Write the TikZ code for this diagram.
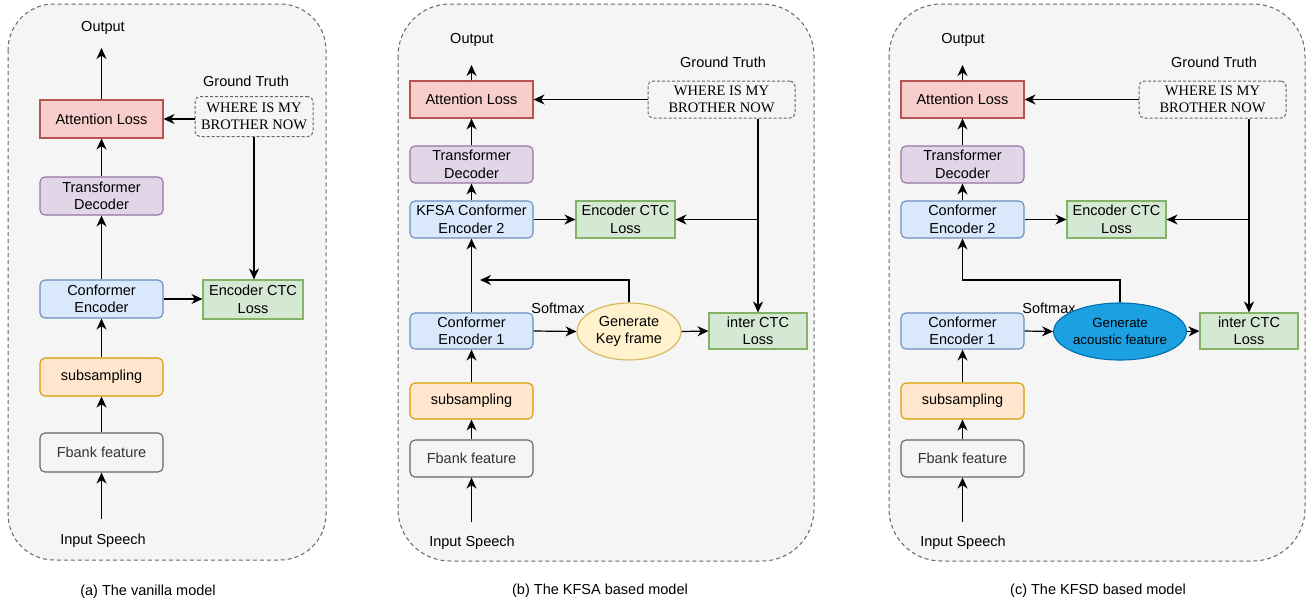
\documentclass[tikz,border=0pt]{standalone}
\usepackage{fontspec}
\setmainfont{Liberation Sans}
\newfontfamily\gtserif{Liberation Serif}
\usetikzlibrary{arrows.meta,shapes.geometric}
\definecolor{attfill}{HTML}{F8CECC}\definecolor{attdraw}{HTML}{B85450}
\definecolor{decfill}{HTML}{E1D5E7}\definecolor{decdraw}{HTML}{9673A6}
\definecolor{encfill}{HTML}{DAE8FC}\definecolor{encdraw}{HTML}{6C8EBF}
\definecolor{ctcfill}{HTML}{D5E8D4}\definecolor{ctcdraw}{HTML}{82B366}
\definecolor{subfill}{HTML}{FFE6CC}\definecolor{subdraw}{HTML}{D79B00}
\definecolor{fbfill}{HTML}{F5F5F5}\definecolor{fbdraw}{HTML}{666666}\definecolor{fbtext}{HTML}{333333}
\definecolor{kffill}{HTML}{FFF2CC}\definecolor{kfdraw}{HTML}{D6B656}
\definecolor{acfill}{HTML}{1BA1E2}\definecolor{acdraw}{HTML}{006EAF}
\definecolor{panelfill}{HTML}{F5F5F5}\definecolor{paneldraw}{HTML}{666666}
\begin{document}
\begin{tikzpicture}[x=1pt,y=-1pt,
  every node/.style={font=\fontsize{14.5}{17.4}\selectfont, inner sep=0pt, align=center},
  blk/.style={draw, line width=1.1pt, minimum width=123pt, minimum height=37pt},
  rblk/.style={blk, rounded corners=5pt},
  attbox/.style={blk, fill=attfill, draw=attdraw},
  decbox/.style={rblk, fill=decfill, draw=decdraw},
  encbox/.style={rblk, fill=encfill, draw=encdraw},
  ctcbox/.style={blk, fill=ctcfill, draw=ctcdraw, minimum width=99pt},
  subbox/.style={rblk, fill=subfill, draw=subdraw},
  fbbox/.style={rblk, fill=fbfill, draw=fbdraw, text=fbtext},
  gtbox/.style={draw=paneldraw, line width=1pt, dash pattern=on 3pt off 2pt, rounded corners=5pt,
     minimum width=147pt, minimum height=37pt, font=\gtserif\fontsize{14.5}{17.6}\selectfont},
  kfell/.style={ellipse, draw=kfdraw, fill=kffill, line width=1.1pt, minimum width=104pt, minimum height=57pt},
  acell/.style={ellipse, draw=acdraw, fill=acfill, line width=1.1pt, minimum width=104pt, minimum height=57pt,
     font=\fontsize{13.3}{16.5}\selectfont},
  arw/.style={-{Stealth[length=11pt,width=10pt,inset=3.5pt]}, line width=1.2pt},
  panelbox/.style={draw=paneldraw, fill=panelfill, dash pattern=on 4pt off 3pt, line width=1pt}
]
\useasboundingbox (0,0) rectangle (1313,603);
\fill[white] (0,0) rectangle (1313,603);

% ---------- panel (a) ----------
\draw[panelbox, rounded corners=46pt] (8,4) rectangle (326,560);
\node (aout) at (103,28) {Output};
\coordinate (aouttip) at (101.5,48);
\node[attbox, minimum height=38pt] (aatt) at (101.5,119) {Attention Loss};
\node (agtl) at (246,81) {Ground Truth};
\node[gtbox, minimum width=118pt, minimum height=40pt] (agt) at (254,116.5) {WHERE IS MY\\BROTHER NOW};
\node[decbox, minimum height=38pt] (adec) at (101.5,196) {Transformer\\Decoder};
\node[encbox, minimum height=38pt] (aenc) at (101.5,299) {Conformer\\Encoder};
\node[ctcbox, minimum width=100pt, minimum height=39pt] (actc) at (253,299.5) {Encoder CTC\\Loss};
\node[subbox, minimum height=38pt] (asub) at (101.5,377) {subsampling};
\node[fbbox, minimum height=39pt] (afb) at (101.5,452.5) {Fbank feature};
\coordinate (ainb) at (101.5,519);
\node (ain) at (103,541) {Input Speech};
\node (acap) at (148,592) {(a) The vanilla model};

\draw[arw] (aatt.north) -- (aouttip);
\draw[arw] (adec.north) -- (aatt.south);
\draw[arw] (aenc.north) -- (adec.south);
\draw[arw] (asub.north) -- (aenc.south);
\draw[arw] (afb.north) -- (asub.south);
\draw[arw] (ainb) -- (afb.south);
\draw[arw] (agt.west |- aatt.east) -- (aatt.east);
\draw[arw] (agt.south) -- (agt.south |- actc.north);
\draw[arw] (aenc.east) -- (aenc.east -| actc.west);

% ---------- panel (b) ----------
\draw[panelbox, rounded corners=52pt] (398,4) rectangle (814,561);
\node (bout) at (472,40) {Output};
\coordinate (bouttip) at (471.5,65);
\node[attbox] (batt) at (471.5,99.5) {Attention Loss};
\node (bgtl) at (723,62) {Ground Truth};
\node[gtbox] (bgt) at (721.5,99.5) {WHERE IS MY\\BROTHER NOW};
\node[decbox] (bdec) at (471.5,164.5) {Transformer\\Decoder};
\node[encbox] (benc2) at (471.5,219.5) {KFSA Conformer\\Encoder 2};
\node[ctcbox] (bctc) at (625.5,219.5) {Encoder CTC\\Loss};
\node[encbox, minimum height=36pt] (benc1) at (471.5,331) {Conformer\\Encoder 1};
\node (bsm) at (558,308) {Softmax};
\node[kfell] (bell) at (629,331.5) {Generate\\Key frame};
\node[ctcbox, minimum width=98pt, minimum height=36pt] (bictc) at (758,331) {inter CTC\\Loss};
\node[subbox, minimum height=36pt] (bsub) at (471.5,401) {subsampling};
\node[fbbox] (bfb) at (471.5,458.5) {Fbank feature};
\coordinate (binb) at (471.5,522);
\node (bin) at (472,543) {Input Speech};
\node (bcap) at (600,591) {(b) The KFSA based model};
\coordinate (bfbk) at (480,280);

\draw[arw] (batt.north) -- (bouttip);
\draw[arw] (bdec.north) -- (batt.south);
\draw[arw] (benc2.north) -- (bdec.south);
\draw[arw] (benc1.north) -- (benc2.south);
\draw[arw] (bsub.north) -- (benc1.south);
\draw[arw] (bfb.north) -- (bsub.south);
\draw[arw] (binb) -- (bfb.south);
\draw[arw] (bgt.west) -- (batt.east);
\draw[arw] (bgt.south -| bictc.north) -- (bictc.north);
\draw[arw] (bictc.north |- bctc.east) -- (bctc.east);
\draw[arw] (benc2.east) -- (bctc.west);
\draw[arw] (benc1.east) -- (bell.west);
\draw[arw] (bell.east) -- (bictc.west);
\draw[arw] (bell.north) |- (bfbk);

% ---------- panel (c) ----------
\draw[panelbox, rounded corners=52pt] (889,4) rectangle (1305,561);
\node (cout) at (963,40) {Output};
\coordinate (couttip) at (962.5,65);
\node[attbox] (catt) at (962.5,99.5) {Attention Loss};
\node (cgtl) at (1214,62) {Ground Truth};
\node[gtbox] (cgt) at (1212.5,99.5) {WHERE IS MY\\BROTHER NOW};
\node[decbox] (cdec) at (962.5,164.5) {Transformer\\Decoder};
\node[encbox] (cenc2) at (962.5,219.5) {Conformer\\Encoder 2};
\node[ctcbox] (cctc) at (1116.5,219.5) {Encoder CTC\\Loss};
\node[encbox, minimum height=36pt] (cenc1) at (962.5,331) {Conformer\\Encoder 1};
\node (csm) at (1049,308) {Softmax};
\node[acell] (cell) at (1120,331.5) {Generate\\acoustic feature};
\node[ctcbox, minimum width=98pt, minimum height=36pt] (cictc) at (1249,331) {inter CTC\\Loss};
\node[subbox, minimum height=36pt] (csub) at (962.5,401) {subsampling};
\node[fbbox] (cfb) at (962.5,458.5) {Fbank feature};
\coordinate (cinb) at (962.5,522);
\node (cin) at (963,543) {Input Speech};
\node (ccap) at (1098,591) {(c) The KFSD based model};
\coordinate (cfbk) at (962.5,280);

\draw[arw] (catt.north) -- (couttip);
\draw[arw] (cdec.north) -- (catt.south);
\draw[arw] (cenc2.north) -- (cdec.south);
\draw[arw] (csub.north) -- (cenc1.south);
\draw[arw] (cfb.north) -- (csub.south);
\draw[arw] (cinb) -- (cfb.south);
\draw[arw] (cgt.west) -- (catt.east);
\draw[arw] (cgt.south -| cictc.north) -- (cictc.north);
\draw[arw] (cictc.north |- cctc.east) -- (cctc.east);
\draw[arw] (cenc2.east) -- (cctc.west);
\draw[arw] (cenc1.east) -- (cell.west);
\draw[arw] (cell.east) -- (cictc.west);
\draw[arw] (cell.north) |- (cfbk) -- (cenc2.south);
\end{tikzpicture}
\end{document}
